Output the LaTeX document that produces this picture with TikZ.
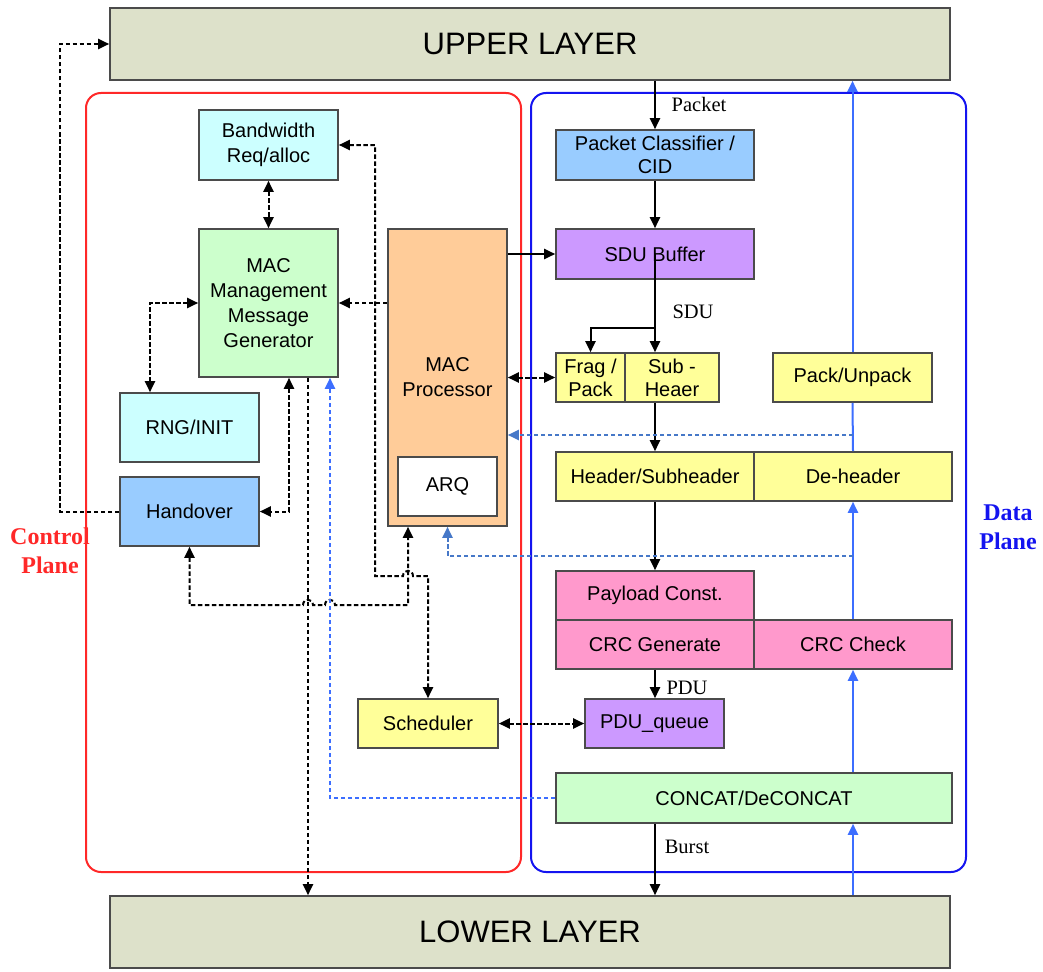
\documentclass[tikz,border=0pt]{standalone}
\usepackage{fontspec}
\setmainfont{Liberation Serif}
\setsansfont{Liberation Sans}
\usetikzlibrary{arrows.meta}

\definecolor{layer}{RGB}{221,225,202}
\definecolor{edge}{RGB}{75,75,75}
\definecolor{lcyan}{RGB}{204,255,255}
\definecolor{lgreen}{RGB}{204,255,204}
\definecolor{lblue}{RGB}{153,204,255}
\definecolor{lorange}{RGB}{255,204,153}
\definecolor{lyellow}{RGB}{255,255,153}
\definecolor{lviolet}{RGB}{204,153,255}
\definecolor{lpink}{RGB}{255,153,204}
\definecolor{planered}{RGB}{255,40,40}
\definecolor{planeblue}{RGB}{20,20,240}
\definecolor{flowblue}{RGB}{60,110,255}
\definecolor{ctrlblue}{RGB}{70,120,200}

\tikzset{
  wh/.style 2 args={minimum width=#1pt, minimum height=#2pt},
  box/.style={draw=edge, line width=1.6pt, inner sep=0pt, align=center,
    font=\sffamily\fontsize{20}{25}\selectfont},
  tight/.style={font=\sffamily\fontsize{20}{23}\selectfont},
  layerbox/.style={box, fill=layer, font=\sffamily\fontsize{31}{36}\selectfont},
  plane/.style={line width=2pt, rounded corners=15pt},
  tipA/.style={-{Triangle[length=11pt,width=10pt]}},
  tipAB/.style={{Triangle[length=11pt,width=10pt]}-{Triangle[length=11pt,width=10pt]}},
  flow/.style={line width=2pt, black, tipA},
  ctrl/.style={line width=2pt, black, dash pattern=on 4.5pt off 2.5pt},
  bflow/.style={line width=2pt, flowblue},
  bctrl/.style={line width=2pt, dash pattern=on 4.5pt off 2.5pt},
  lbl/.style={font=\rmfamily\fontsize{20.5}{24}\selectfont, inner sep=0pt},
  planelbl/.style={font=\rmfamily\bfseries\fontsize{24}{29}\selectfont, align=center, inner sep=0pt}
}

\begin{document}
\begin{tikzpicture}[x=1pt, y=-1pt]
\useasboundingbox (0,0) rectangle (1043,971);
\fill[white] (0,0) rectangle (1043,971);

% control and data plane frames
\draw[plane, planered] (86,93) rectangle (521,872);
\draw[plane, planeblue] (531,93) rectangle (966,872);
\node[planelbl, text=planered] (cplbl) at (50,551) {Control\\Plane};
\node[planelbl, text=planeblue] (dplbl) at (1008,527) {Data\\Plane};

% layers
\node[layerbox, wh={840}{72}] (upper) at (530,44) {UPPER LAYER};
\node[layerbox, wh={840}{72}] (lower) at (530,932) {LOWER LAYER};

% control plane blocks
\node[box, fill=lcyan,   wh={139}{70}]  (bw)    at (268.5,145)   {Bandwidth\\Req/alloc};
\node[box, fill=lgreen,  wh={139}{148}] (mgmt)  at (268.5,303)   {MAC\\Management\\Message\\Generator};
\node[box, fill=lcyan,   wh={139}{69}]  (rng)   at (189.5,427.5) {RNG/INIT};
\node[box, fill=lblue,   wh={139}{69}]  (ho)    at (189.5,511.5) {Handover};
\node[box, fill=lorange, wh={119}{297}, text depth=0pt] (proc) at (447.5,377.5) {MAC\\Processor};
\node[box, fill=white,   wh={99}{59}]   (arq)   at (447.5,486.5) {ARQ};
\node[box, fill=lyellow, wh={140}{49}]  (sched) at (428,723.5)   {Scheduler};

% data plane blocks
\node[box, fill=lblue,   wh={198}{50}, tight] (pc)   at (655,155)   {Packet Classifier /\\CID};
\node[box, fill=lviolet, wh={198}{50}]        (sdu)  at (655,254)   {SDU Buffer};
\node[box, fill=lyellow, wh={69}{49}, tight]  (frag) at (590.5,377.5) {Frag /\\Pack};
\node[box, fill=lyellow, wh={94}{49}, tight]  (sub)  at (672,377.5) {Sub -\\Heaer};
\node[box, fill=lyellow, wh={159}{49}]        (pu)   at (852.5,377.5) {Pack/Unpack};
\node[box, fill=lyellow, wh={198}{49}]        (hs)   at (655,476.5) {Header/Subheader};
\node[box, fill=lyellow, wh={198}{49}]        (dh)   at (853,476.5) {De-header};
\node[box, fill=lpink,   wh={198}{49}]        (pay)  at (655,595.5) {Payload Const.};
\node[box, fill=lpink,   wh={198}{49}]        (crcg) at (655,644.5) {CRC Generate};
\node[box, fill=lpink,   wh={198}{49}]        (crcc) at (853,644.5) {CRC Check};
\node[box, fill=lviolet, wh={139}{49}]        (pduq) at (654.5,723.5) {PDU\_queue};
\node[box, fill=lgreen,  wh={396}{50}]        (concat) at (754,798) {CONCAT/DeCONCAT};

% reference columns and junctions
\coordinate (xA) at (408,0);
\coordinate (xC) at (308,0);
\coordinate (xD) at (330,0);
\coordinate (xE) at (289,0);
\coordinate (xF) at (150,0);
\coordinate (xS) at (655,0);
\coordinate (xB) at (853,0);
\coordinate (br) at (655,328);
\coordinate (hb) at (853,435);
\coordinate (ib) at (853,556);

% downlink data path
\draw[flow] (upper.south -| pc.north) -- (pc.north);
\node[lbl] (lpacket) at (699,104) {Packet};
\draw[flow] (pc.south) -- (sdu.north);
\draw[flow] (proc.east |- sdu.west) -- (sdu.west);
\draw[flow] (sdu.center) -- (sdu.center |- sub.north);
\draw[flow] (br) -| (frag.north);
\node[lbl] (lsdu) at (693,312) {SDU};
\draw[flow] (sdu.center |- sub.south) -- (hs.north);
\draw[flow] (hs.south) -- (pay.north);
\draw[flow] (crcg.south) -- (crcg.south |- pduq.north);
\node[lbl] (lpdu) at (687,688) {PDU};
\draw[flow] (concat.south -| xS) -- (lower.north -| xS);
\node[lbl] (lburst) at (687,847) {Burst};

% uplink data path
\draw[bflow, tipA] (lower.north -| xB) -- (concat.south -| xB);
\draw[bflow, tipA] (concat.north -| xB) -- (crcc.south);
\draw[bflow, tipA] (crcc.north) -- (dh.south);
\draw[bflow] (dh.north) -- (pu.south);
\draw[bflow, tipA] (pu.north) -- (upper.south -| pu.north);

% control signalling
\draw[ctrl, tipA] (ho.west) -- ++(-59,0) |- (upper.west);
\draw[ctrl, tipAB] (bw.south) -- (mgmt.north);
\draw[ctrl, tipA] (proc.west |- mgmt.east) -- (mgmt.east);
\draw[ctrl, tipAB] (mgmt.west) -| (rng.north -| xF);
\draw[ctrl, tipAB] (mgmt.south -| xE) |- (ho.east);
\draw[ctrl, tipA] (mgmt.south -| xC) -- (lower.north -| xC);
\draw[ctrl, tipAB] (bw.east) -| (375,576) -- (403,576)
  .. controls (403,569) and (413,569) .. (413,576) -- (428,576) -- (sched.north);
\draw[ctrl, tipAB] (ho.south) |- (303,605)
  .. controls (303,598) and (313,598) .. (313,605) -- (325,605)
  .. controls (325,598) and (335,598) .. (335,605) -| (proc.south -| xA);
\draw[ctrl, tipAB] (proc.east |- frag.west) -- (frag.west);
\draw[ctrl, tipAB] (sched.east) -- (sched.east -| pduq.west);

% feedback to the control plane
\draw[bctrl, ctrlblue, tipA] (hb) -- (proc.east |- hb);
\draw[bctrl, ctrlblue, tipA] (ib) -| (proc.south);
\draw[bctrl, flowblue, tipA] (concat.west) -| (mgmt.south -| xD);
\end{tikzpicture}
\end{document}
